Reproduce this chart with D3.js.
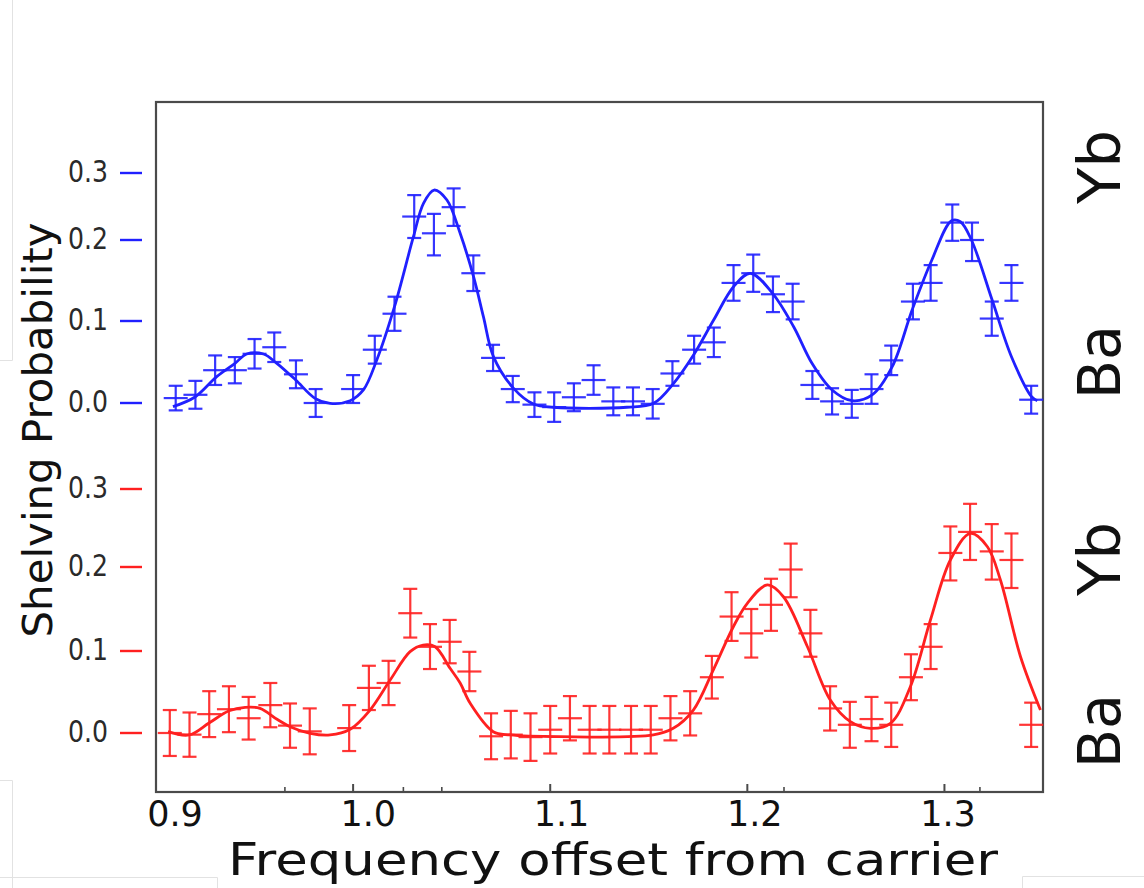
<!DOCTYPE html>
<html>
<head>
<meta charset="utf-8">
<script src="https://cdn.jsdelivr.net/npm/d3@7"></script>
<style>
  html, body { margin: 0; padding: 0; background: #ffffff; }
  svg { display: block; }
  text { font-family: "DejaVu Sans", Verdana, sans-serif; }
</style>
</head>
<body>
<svg id="chart" width="1144" height="888"></svg>
<script>
// ---- Yb (upper, blue) measured points: frequency, shelving probability, error ----
const ybFreq = [0.910,0.920,0.930,0.940,0.950,0.960,0.971,0.981,1.000,1.011,1.021,1.031,1.041,1.051,1.061,1.071,1.081,1.092,1.102,1.112,1.122,1.132,1.142,1.152,1.162,1.173,1.183,1.193,1.203,1.213,1.223,1.233,1.243,1.253,1.263,1.273,1.284,1.293,1.304,1.314,1.324,1.334,1.344];
const ybProb = [0.006,0.010,0.040,0.040,0.060,0.068,0.035,0.000,0.017,0.065,0.109,0.235,0.210,0.249,0.159,0.055,0.017,-0.002,-0.005,0.007,0.028,0.002,0.002,-0.001,0.036,0.065,0.074,0.147,0.159,0.133,0.124,0.022,0.002,-0.001,0.017,0.052,0.124,0.147,0.226,0.200,0.103,0.147,0.004];
const ybErr  = [0.015,0.017,0.018,0.016,0.018,0.018,0.017,0.017,0.017,0.017,0.021,0.032,0.029,0.028,0.022,0.016,0.016,0.015,0.018,0.017,0.018,0.017,0.017,0.018,0.015,0.017,0.018,0.022,0.023,0.022,0.022,0.017,0.016,0.017,0.018,0.018,0.022,0.022,0.027,0.026,0.021,0.022,0.017];

// ---- Yb fitted curve ----
const ybFitFreq = [0.9086,0.9198,0.9308,0.9401,0.9460,0.9545,0.9613,0.9709,0.9807,0.9883,0.9985,1.0052,1.0120,1.0210,1.0306,1.0357,1.0411,1.0476,1.0543,1.0611,1.0661,1.0712,1.0814,1.0915,1.1017,1.1389,1.1524,1.1626,1.1727,1.1829,1.1930,1.2015,1.2128,1.2235,1.2328,1.2430,1.2531,1.2633,1.2735,1.2836,1.2934,1.3036,1.3081,1.3137,1.3242,1.3340,1.3442,1.3471];
const ybFitProb = [-0.0045,0.0073,0.0321,0.0484,0.0598,0.0598,0.0484,0.0280,0.0057,-0.0004,0.0028,0.0159,0.0524,0.1177,0.2049,0.2548,0.2746,0.2597,0.2100,0.1547,0.1053,0.0565,0.0179,-0.0012,-0.0052,-0.0052,-0.0004,0.0240,0.0585,0.1012,0.1423,0.1589,0.1342,0.0930,0.0484,0.0159,0.0028,0.0098,0.0443,0.1136,0.1741,0.2288,0.2273,0.2000,0.1259,0.0565,0.0077,0.0028];

// ---- Ba (lower, red) measured points ----
const baFreq = [0.907,0.917,0.927,0.937,0.947,0.958,0.968,0.978,0.998,1.008,1.018,1.029,1.039,1.049,1.059,1.070,1.080,1.090,1.100,1.110,1.120,1.130,1.141,1.151,1.161,1.171,1.182,1.192,1.202,1.212,1.222,1.232,1.242,1.252,1.263,1.273,1.283,1.293,1.303,1.313,1.324,1.334,1.344];
const baProb = [0.000,-0.002,0.023,0.029,0.018,0.034,0.009,0.002,0.006,0.055,0.061,0.145,0.105,0.111,0.075,-0.004,-0.002,-0.005,0.004,0.018,0.004,0.004,0.004,0.004,0.018,0.024,0.068,0.141,0.121,0.155,0.197,0.121,0.030,0.010,0.017,0.010,0.068,0.105,0.218,0.245,0.220,0.209,0.010];
const baErr  = [0.028,0.027,0.028,0.028,0.026,0.027,0.027,0.028,0.028,0.027,0.027,0.029,0.027,0.026,0.024,0.028,0.029,0.029,0.029,0.027,0.029,0.029,0.029,0.029,0.027,0.027,0.026,0.029,0.029,0.031,0.033,0.028,0.027,0.028,0.027,0.027,0.028,0.027,0.034,0.036,0.035,0.034,0.027];

// ---- Ba fitted curve ----
const baFitFreq = [0.9061,0.9168,0.9269,0.9371,0.9452,0.9528,0.9614,0.9680,0.9782,0.9883,0.9985,1.0086,1.0188,1.0289,1.0355,1.0416,1.0492,1.0543,1.0594,1.0711,1.0797,1.1051,1.1523,1.1624,1.1726,1.1827,1.1929,1.2000,1.2102,1.2183,1.2305,1.2421,1.2523,1.2624,1.2726,1.2827,1.2929,1.3030,1.3132,1.3218,1.3284,1.3386,1.3487];
const baFitProb = [0.0016,-0.0024,0.0122,0.0272,0.0313,0.0301,0.0167,0.0077,-0.0004,-0.0024,0.0045,0.0280,0.0646,0.0992,0.1071,0.1051,0.0789,0.0610,0.0362,0.0016,-0.0024,-0.0045,-0.0024,0.0057,0.0280,0.0768,0.1289,0.1568,0.1786,0.1646,0.1051,0.0402,0.0138,0.0057,0.0118,0.0565,0.1369,0.2090,0.2432,0.2260,0.1845,0.0930,0.0280];

// ---- axis ticks and labels ----
const probTicks = [0.0, 0.1, 0.2, 0.3];
const freqTicks = [0.9, 1.0, 1.1, 1.2, 1.3];
const freqMarks = [0.9654, 1.0255, 1.045, 1.2186, 1.318];
const xTitle = "Frequency offset from carrier";
const yTitle = "Shelving Probability";
const sideLabels = ["Yb", "Ba"];

const blue = "#2020ff";
const red = "#ff2020";

const svg = d3.select("#chart");

// plot frame
const frame = { left: 156, right: 1043, top: 102, bottom: 792 };

const x = d3.scaleLinear().domain([0.9, 1.35]).range([frame.left, frame.right]);
// tick labels sit slightly right of their tick marks
const xLabel = d3.scaleLinear().domain([0.9, 1.3]).range([175, 948]);

const yTop = d3.scaleLinear().domain(probTicks).range([403, 321, 240, 173]);
const yBot = d3.scaleLinear().domain(probTicks).range([733, 651, 567, 489]);

// faint slide panel edges
const faint = svg.append("g").attr("stroke", "#e2e2e2").attr("stroke-width", 1).attr("fill", "none");
faint.append("path").attr("d", "M12.5,0 V360.5 H0");
faint.append("path").attr("d", "M0,780.5 H12.5 V888");
faint.append("path").attr("d", "M0,877.5 H217.5 V888");
faint.append("path").attr("d", "M1144,876.5 H1022.5 V888");

// frame
svg.append("rect")
  .attr("x", frame.left).attr("y", frame.top)
  .attr("width", frame.right - frame.left).attr("height", frame.bottom - frame.top)
  .attr("fill", "none").attr("stroke", "#4a4a4a").attr("stroke-width", 2.2);

// bottom axis tick marks
svg.append("g").selectAll("line.major").data(freqTicks.slice(1)).join("line")
  .attr("x1", d => x(d)).attr("x2", d => x(d))
  .attr("y1", frame.bottom).attr("y2", frame.bottom - 8)
  .attr("stroke", "#4a4a4a").attr("stroke-width", 2);
svg.append("g").selectAll("line.minor").data(freqMarks).join("line")
  .attr("x1", d => x(d)).attr("x2", d => x(d))
  .attr("y1", frame.bottom).attr("y2", frame.bottom - 5)
  .attr("stroke", "#4a4a4a").attr("stroke-width", 1.6);

// bottom axis labels
svg.append("g").selectAll("text").data(freqTicks).join("text")
  .attr("x", d => xLabel(d)).attr("y", 826)
  .attr("text-anchor", "middle")
  .attr("font-size", 35).attr("fill", "#111")
  .text(d => d3.format(".1f")(d));

// x title
svg.append("text")
  .attr("x", 613).attr("y", 875)
  .attr("text-anchor", "middle")
  .attr("font-size", 44).attr("fill", "#111")
  .attr("textLength", 770).attr("lengthAdjust", "spacingAndGlyphs")
  .text(xTitle);

// y title
svg.append("text")
  .attr("transform", "translate(52,430) rotate(-90)")
  .attr("text-anchor", "middle")
  .attr("font-size", 40).attr("fill", "#111")
  .attr("textLength", 415).attr("lengthAdjust", "spacingAndGlyphs")
  .text(yTitle);

// left probability axes, one per panel
function probAxis(scale, color) {
  const g = svg.append("g");
  g.selectAll("line").data(probTicks).join("line")
    .attr("x1", 120).attr("x2", 142)
    .attr("y1", d => scale(d)).attr("y2", d => scale(d))
    .attr("stroke", color).attr("stroke-width", 2.4);
  g.selectAll("text").data(probTicks).join("text")
    .attr("x", 108).attr("y", d => scale(d) - 2)
    .attr("text-anchor", "end").attr("dominant-baseline", "central")
    .attr("font-size", 30).attr("fill", "#2a2a2a")
    .attr("textLength", 40).attr("lengthAdjust", "spacingAndGlyphs")
    .text(d => d3.format(".1f")(d));
}
probAxis(yTop, blue);
probAxis(yBot, red);

// side element labels
const sideRows = [
  { label: sideLabels[0], cy: 167 },
  { label: sideLabels[1], cy: 362 },
  { label: sideLabels[0], cy: 559 },
  { label: sideLabels[1], cy: 731 }
];
svg.append("g").selectAll("text").data(sideRows).join("text")
  .attr("transform", d => `translate(1120,${d.cy}) rotate(-90)`)
  .attr("text-anchor", "middle")
  .attr("font-size", 58).attr("fill", "#111")
  .attr("textLength", 74).attr("lengthAdjust", "spacingAndGlyphs")
  .text(d => d.label);

// one spectrum: fitted curve plus points with error bars
function spectrum(freq, prob, err, fitF, fitP, y, color) {
  const g = svg.append("g");
  const line = d3.line().x(d => x(d[0])).y(d => y(d[1])).curve(d3.curveCatmullRom.alpha(0.5));
  g.append("path")
    .datum(d3.zip(fitF, fitP))
    .attr("d", line)
    .attr("fill", "none").attr("stroke", color).attr("stroke-width", 2.8)
    .attr("stroke-linejoin", "round");

  const pts = freq.map((f, i) => ({ f, p: prob[i], e: err[i] }));
  const mk = g.selectAll("g.pt").data(pts).join("g")
    .attr("stroke", color).attr("stroke-width", 2.2).attr("stroke-opacity", 0.9);
  mk.append("line")
    .attr("x1", d => x(d.f)).attr("x2", d => x(d.f))
    .attr("y1", d => y(d.p - d.e)).attr("y2", d => y(d.p + d.e));
  mk.append("line")
    .attr("x1", d => x(d.f) - 7).attr("x2", d => x(d.f) + 7)
    .attr("y1", d => y(d.p + d.e)).attr("y2", d => y(d.p + d.e));
  mk.append("line")
    .attr("x1", d => x(d.f) - 7).attr("x2", d => x(d.f) + 7)
    .attr("y1", d => y(d.p - d.e)).attr("y2", d => y(d.p - d.e));
  mk.append("line")
    .attr("x1", d => x(d.f) - 12).attr("x2", d => x(d.f) + 12)
    .attr("y1", d => y(d.p)).attr("y2", d => y(d.p));
}

spectrum(ybFreq, ybProb, ybErr, ybFitFreq, ybFitProb, yTop, blue);
spectrum(baFreq, baProb, baErr, baFitFreq, baFitProb, yBot, red);
</script>
</body>
</html>
